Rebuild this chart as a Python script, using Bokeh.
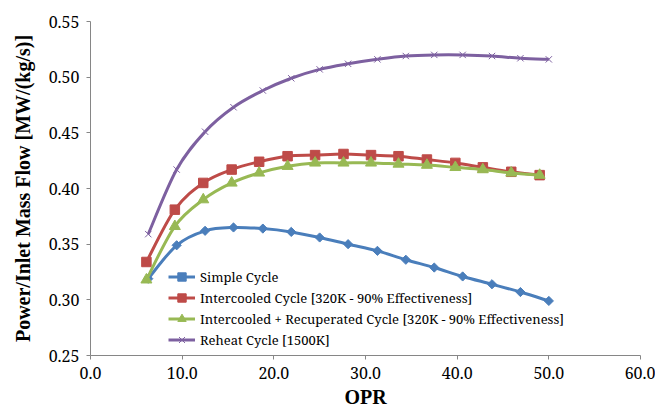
import numpy as np
from bokeh.plotting import figure
from bokeh.models import (Range1d, FixedTicker, PrintfTickFormatter, Legend,
                          LegendItem, ColumnDataSource)
from bokeh.embed import file_html
from bokeh.resources import INLINE

# ---- data ----
opr_simple_reheat = [6.3, 9.4, 12.5, 15.6, 18.8, 21.9, 25.0, 28.1, 31.3, 34.4,
                     37.5, 40.6, 43.8, 46.9, 50.0]
opr_intercooled = [6.1, 9.2, 12.3, 15.4, 18.4, 21.5, 24.5, 27.6, 30.6, 33.6,
                   36.7, 39.8, 42.8, 45.9, 49.0]
simple_cycle = [0.319, 0.349, 0.362, 0.365, 0.364, 0.361, 0.356, 0.350, 0.344,
                0.336, 0.329, 0.321, 0.314, 0.307, 0.299]
intercooled_cycle = [0.334, 0.381, 0.405, 0.417, 0.424, 0.429, 0.430, 0.431,
                     0.430, 0.429, 0.426, 0.423, 0.419, 0.415, 0.412]
ic_recup_cycle = [0.318, 0.366, 0.390, 0.405, 0.414, 0.420, 0.423, 0.423,
                  0.423, 0.422, 0.421, 0.419, 0.417, 0.414, 0.412]
reheat_cycle = [0.359, 0.417, 0.451, 0.473, 0.488, 0.499, 0.507, 0.512, 0.516,
                0.519, 0.520, 0.520, 0.519, 0.517, 0.516]

series_names = ["Simple Cycle",
                "Intercooled Cycle [320K - 90% Effectiveness]",
                "Intercooled + Recuperated Cycle [320K - 90% Effectiveness]",
                "Reheat Cycle [1500K]"]

x_ticks = [0, 10, 20, 30, 40, 50, 60]
y_ticks = [0.25, 0.30, 0.35, 0.40, 0.45, 0.50, 0.55]


def smooth_source(xs, ys):
    """Catmull-Rom style Bezier control points (like a smoothed line)."""
    x = np.asarray(xs, float)
    y = np.asarray(ys, float)
    n = len(x)
    xp = np.concatenate([[x[0]], x, [x[-1]]])
    yp = np.concatenate([[y[0]], y, [y[-1]]])
    cx0 = x[:-1] + (xp[2:n + 1] - xp[0:n - 1]) / 6.0
    cy0 = y[:-1] + (yp[2:n + 1] - yp[0:n - 1]) / 6.0
    cx1 = x[1:] - (xp[3:n + 2] - xp[1:n]) / 6.0
    cy1 = y[1:] - (yp[3:n + 2] - yp[1:n]) / 6.0
    return ColumnDataSource(dict(x0=x[:-1], y0=y[:-1], x1=x[1:], y1=y[1:],
                                 cx0=cx0, cy0=cy0, cx1=cx1, cy1=cy1))


p = figure(width=655, height=412, x_range=Range1d(0, 60),
           y_range=Range1d(0.25, 0.55), output_backend="svg",
           toolbar_location=None, min_border_left=90, min_border_right=15,
           min_border_top=21, min_border_bottom=57)
p.grid.visible = False
p.outline_line_color = None

TITLE_FONT = "Liberation Serif"
TEXT_FONT = "Noto Serif"
for ax in (p.xaxis[0], p.yaxis[0]):
    ax.axis_line_color = "#868686"
    ax.major_tick_line_color = "#868686"
    ax.minor_tick_line_color = None
    ax.major_tick_out = 4
    ax.major_tick_in = 0
    ax.major_label_text_font = TEXT_FONT
    ax.major_label_text_font_size = "16px"
    ax.major_label_text_color = "black"
    ax.axis_label_text_font = TITLE_FONT
    ax.axis_label_text_font_style = "bold"
    ax.axis_label_text_font_size = "20px"
    ax.axis_label_text_color = "black"

p.xaxis[0].ticker = FixedTicker(ticks=x_ticks)
p.xaxis[0].formatter = PrintfTickFormatter(format="%.1f")
p.xaxis[0].major_label_standoff = 7
p.xaxis[0].axis_label_standoff = 4
p.xaxis[0].axis_label = "OPR"

p.yaxis[0].ticker = FixedTicker(ticks=y_ticks)
p.yaxis[0].formatter = PrintfTickFormatter(format="%.2f")
p.yaxis[0].major_label_standoff = 7
p.yaxis[0].axis_label_standoff = 12
p.yaxis[0].axis_label = "Power/Inlet Mass Flow [MW/(kg/s)]"

styles = [
    (opr_simple_reheat, simple_cycle, "#4A7EBB", dict(marker="square", size=6.5, angle=np.pi / 4)),
    (opr_intercooled, intercooled_cycle, "#BE4B48", dict(marker="square", size=9.5)),
    (opr_intercooled, ic_recup_cycle, "#98B954", dict(marker="triangle", size=11)),
    (opr_simple_reheat, reheat_cycle, "#7D60A0", dict(marker="x", size=9, line_width=1)),
]

items = []
for name, (xs, ys, color, mk) in zip(series_names, styles):
    src = smooth_source(xs, ys)
    r_line = p.bezier(x0="x0", y0="y0", x1="x1", y1="y1", cx0="cx0",
                      cy0="cy0", cx1="cx1", cy1="cy1", source=src,
                      line_color=color, line_width=3)
    kw = dict(mk)
    r_pts = p.scatter(xs, ys, fill_color=color, line_color=color, **kw)
    items.append(LegendItem(label=name, renderers=[r_line, r_pts]))

legend = Legend(items=items, location=(78, 5), orientation="vertical",
                background_fill_alpha=0, border_line_color=None,
                padding=0, margin=0, spacing=0, glyph_width=27,
                glyph_height=21, label_height=21, label_standoff=5,
                label_text_font=TEXT_FONT, label_text_font_size="13px",
                label_text_color="black")
p.add_layout(legend)

open("out.html", "w").write(file_html(p, INLINE))
